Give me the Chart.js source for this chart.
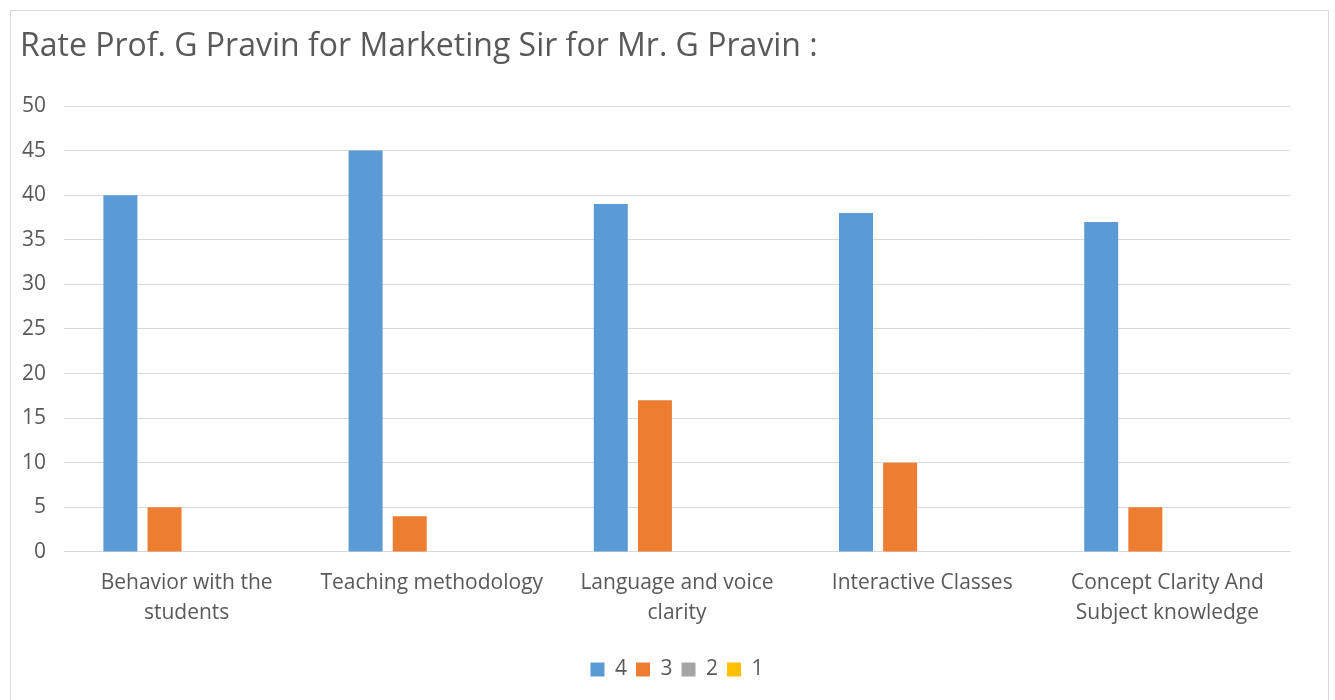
<!DOCTYPE html>
<html>
<head>
<meta charset="utf-8">
<script src="https://cdn.jsdelivr.net/npm/chart.js@4.4.1/dist/chart.umd.min.js"></script>
<style>
  html, body { margin: 0; padding: 0; background: #fff; }
  #wrap { position: relative; width: 1335px; height: 700px; overflow: hidden; }
  #frame { position: absolute; left: 10px; top: 10px; width: 1319px; height: 720px; border: 1px solid #d9d9d9; box-sizing: border-box; }
  canvas { position: absolute; left: 0; top: 0; }
</style>
</head>
<body>
<div id="wrap">
  <div id="frame"></div>
  <canvas id="c" width="1335" height="700"></canvas>
</div>
<script>
const titleText = "Rate Prof. G Pravin for Marketing Sir for Mr. G Pravin :";
const categories = [
  ["Behavior with the", "students"],
  ["Teaching methodology"],
  ["Language and voice", "clarity"],
  ["Interactive Classes"],
  ["Concept Clarity And", "Subject knowledge"]
];
const seriesNames = ["4", "3", "2", "1"];
const rating4 = [40, 45, 39, 38, 37];
const rating3 = [5, 4, 17, 10, 5];
const rating2 = [0, 0, 0, 0, 0];
const rating1 = [0, 0, 0, 0, 0];
const seriesColors = ["#5B9BD5", "#ED7D31", "#A5A5A5", "#FFC000"];
const yMin = 0, yMax = 50, yStep = 5;

const textColor = "#595959";
const fontFamily = "'Open Sans', 'Liberation Sans', sans-serif";

const seriesData = [rating4, rating3, rating2, rating1];

const legendShift = {
  id: "legendShift",
  afterLayout(chart) {
    const lg = chart.legend;
    if (lg) {
      lg.left += 22; lg.right += 22;
      if (lg.adjustHitBoxes) lg.adjustHitBoxes();
    }
  }
};

new Chart(document.getElementById("c"), {
  type: "bar",
  plugins: [legendShift],
  data: {
    labels: categories,
    datasets: seriesNames.map((n, i) => ({
      label: n,
      data: seriesData[i],
      backgroundColor: seriesColors[i],
      borderWidth: 0,
      categoryPercentage: 0.72,
      barPercentage: 0.77
    }))
  },
  options: {
    responsive: false,
    animation: false,
    devicePixelRatio: 1,
    layout: { padding: { left: 20, right: 45, top: 10, bottom: 10 } },
    plugins: {
      title: {
        display: true,
        text: titleText,
        align: "start",
        color: textColor,
        font: { family: fontFamily, size: 32, weight: "normal", lineHeight: 1.2 },
        padding: { top: 18, bottom: 39.6 }
      },
      legend: {
        position: "bottom",
        labels: {
          color: textColor,
          font: { family: fontFamily, size: 21 },
          boxWidth: 14,
          boxHeight: 14,
          padding: 9
        }
      },
      tooltip: { enabled: false }
    },
    scales: {
      x: {
        grid: { display: false, drawTicks: false },
        border: { display: true, color: "#d9d9d9", width: 1 },
        ticks: {
          color: textColor,
          font: { family: fontFamily, size: 21, lineHeight: 1.43 },
          padding: 16,
          maxRotation: 0,
          autoSkip: false
        },
        afterFit: (s) => { s.height += 6; }
      },
      y: {
        min: yMin,
        max: yMax,
        grid: { color: "#d9d9d9", drawTicks: false, lineWidth: 1 },
        border: { display: false },
        ticks: {
          stepSize: yStep,
          color: textColor,
          font: { family: fontFamily, size: 21 },
          padding: 18
        },
        afterFit: (s) => { s.width = 44; }
      }
    }
  }
});
</script>
</body>
</html>
